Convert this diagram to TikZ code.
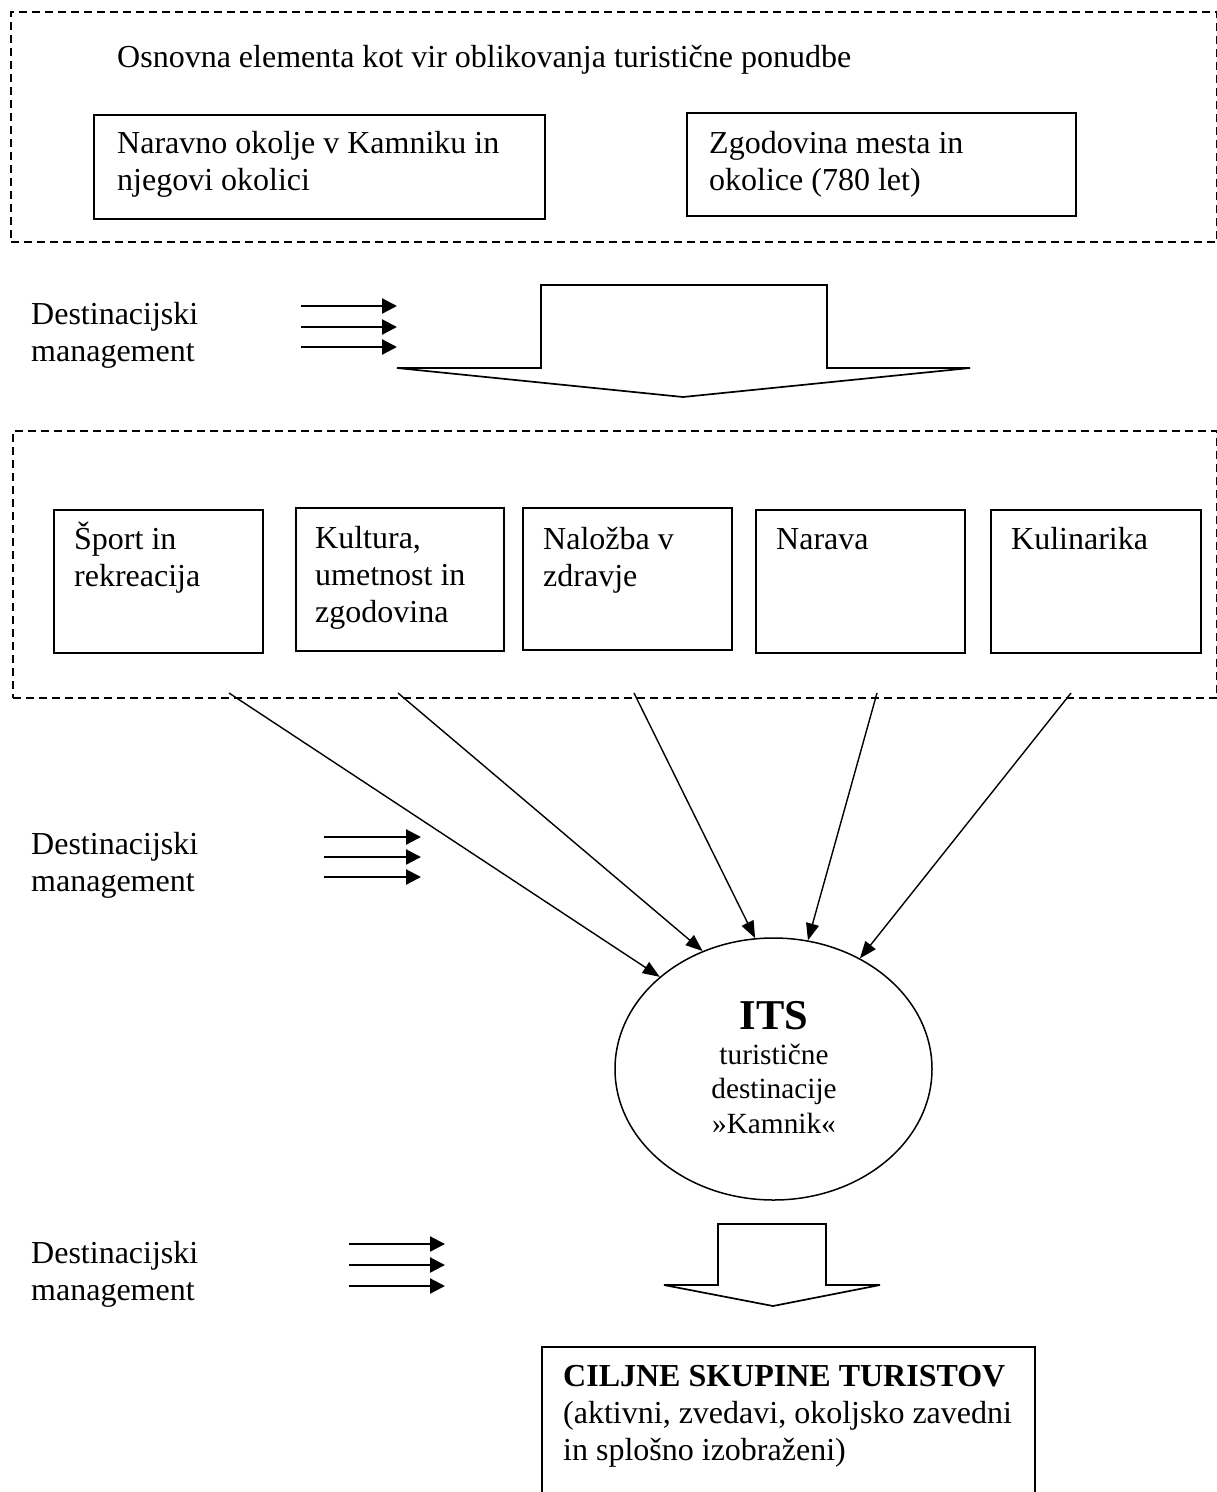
\documentclass[tikz,border=0pt]{standalone}
\usepackage{fontspec}
\setmainfont{Liberation Serif}
\usetikzlibrary{arrows.meta,shapes.geometric}
\begin{document}
\begin{tikzpicture}[x=1pt,y=-1pt,
  txt/.style={anchor=base west,inner sep=0pt,align=left,font=\fontsize{32}{36.8}\selectfont},
  box/.style={draw,line width=1.7pt,anchor=north west,inner sep=0pt},
  group/.style={draw,line width=2.2pt,dash pattern=on 8pt off 5pt,anchor=north west,inner sep=0pt},
  dm/.style={line width=2.2pt,-{Triangle[length=15pt,width=15pt]}},
  feed/.style={line width=1.4pt,-{Triangle[length=17pt,width=13pt]}},
  blockarrow/.style={line width=1.7pt,line join=miter}
]
\useasboundingbox (0,0) rectangle (1217,1492);

% ---------- top group ----------
\node[group,minimum width=1206pt,minimum height=230pt] (g1) at (10,11) {};
\node[txt] (title) at (117,67) {Osnovna elementa kot vir oblikovanja turistične ponudbe};
\node[box,minimum width=451pt,minimum height=104pt] (b1) at (93,114) {};
\node[txt] (t1) at (117,190) {Naravno okolje v Kamniku in\\njegovi okolici};
\node[box,minimum width=389pt,minimum height=103pt] (b2) at (686,112) {};
\node[txt] (t2) at (709,190) {Zgodovina mesta in\\okolice (780 let)};

% ---------- destinacijski management 1 ----------
\node[txt] (dm1) at (31,361) {Destinacijski\\management};
\coordinate (a1s) at (301,306); \coordinate (a1e) at (397,306);
\coordinate (a2s) at (301,327); \coordinate (a2e) at (397,327);
\coordinate (a3s) at (301,347); \coordinate (a3e) at (397,347);
\draw[dm] (a1s) -- (a1e);
\draw[dm] (a2s) -- (a2e);
\draw[dm] (a3s) -- (a3e);

\draw[blockarrow] (541,368) -- (541,285) -- (827,285) -- (827,368) -- (970,368) -- (683,397) -- (397,368) -- cycle;

% ---------- second group ----------
\node[group,minimum width=1204pt,minimum height=267pt] (g2) at (12,430) {};
\node[box,minimum width=209pt,minimum height=143pt] (p1) at (53,509) {};
\node[box,minimum width=208pt,minimum height=143pt] (p2) at (295,507) {};
\node[box,minimum width=209pt,minimum height=142pt] (p3) at (522,507) {};
\node[box,minimum width=209pt,minimum height=143pt] (p4) at (755,509) {};
\node[box,minimum width=210pt,minimum height=143pt] (p5) at (990,509) {};
\node[txt] (pt1) at (74,586) {Šport in\\rekreacija};
\node[txt] (pt2) at (315,622) {Kultura,\\umetnost in\\zgodovina};
\node[txt] (pt3) at (543,586) {Naložba v\\zdravje};
\node[txt] (pt4) at (776,549) {Narava};
\node[txt] (pt5) at (1011,549) {Kulinarika};

% ---------- ITS ----------
\node[draw,ellipse,line width=1.5pt,minimum width=317pt,minimum height=262pt,inner sep=0pt] (its) at (773.5,1069) {};
\node[anchor=base,inner sep=0pt,align=center,font=\fontsize{29.3}{34.5}\selectfont] (itstext) at (774,1133)
  {{\fontsize{42.5}{42.5}\selectfont\bfseries ITS}\\turistične\\destinacije\\»Kamnik«};

\coordinate (s1) at (229,693);
\coordinate (s2) at (398,693);
\coordinate (s3) at (634,693);
\coordinate (s4) at (877,693);
\coordinate (s5) at (1071,693);
\draw[feed] (s1) -- (its.141);
\draw[feed] (s2) -- (its.121);
\draw[feed] (s3) -- (its.98);
\draw[feed] (s4) -- (its.75);
\draw[feed] (s5) -- (its.52);

% ---------- destinacijski management 2 ----------
\node[txt] (dm2) at (31,891) {Destinacijski\\management};
\coordinate (b1s) at (324,837); \coordinate (b1e) at (421,837);
\coordinate (b2s) at (324,857); \coordinate (b2e) at (421,857);
\coordinate (b3s) at (324,877); \coordinate (b3e) at (421,877);
\draw[dm] (b1s) -- (b1e);
\draw[dm] (b2s) -- (b2e);
\draw[dm] (b3s) -- (b3e);

% ---------- destinacijski management 3 ----------
\node[txt] (dm3) at (31,1300) {Destinacijski\\management};
\coordinate (c1s) at (349,1244); \coordinate (c1e) at (445,1244);
\coordinate (c2s) at (349,1265); \coordinate (c2e) at (445,1265);
\coordinate (c3s) at (349,1286); \coordinate (c3e) at (445,1286);
\draw[dm] (c1s) -- (c1e);
\draw[dm] (c2s) -- (c2e);
\draw[dm] (c3s) -- (c3e);

\draw[blockarrow] (718,1285) -- (718,1224) -- (826,1224) -- (826,1285) -- (880,1285) -- (773,1306) -- (664,1285) -- cycle;

% ---------- target groups ----------
\draw[line width=1.7pt] (542,1493) |- (1035,1347) -- (1035,1493);
\node[txt] (target) at (563,1460) {\textbf{CILJNE SKUPINE TURISTOV}\\(aktivni, zvedavi, okoljsko zavedni\\in splošno izobraženi)};
\end{tikzpicture}
\end{document}
